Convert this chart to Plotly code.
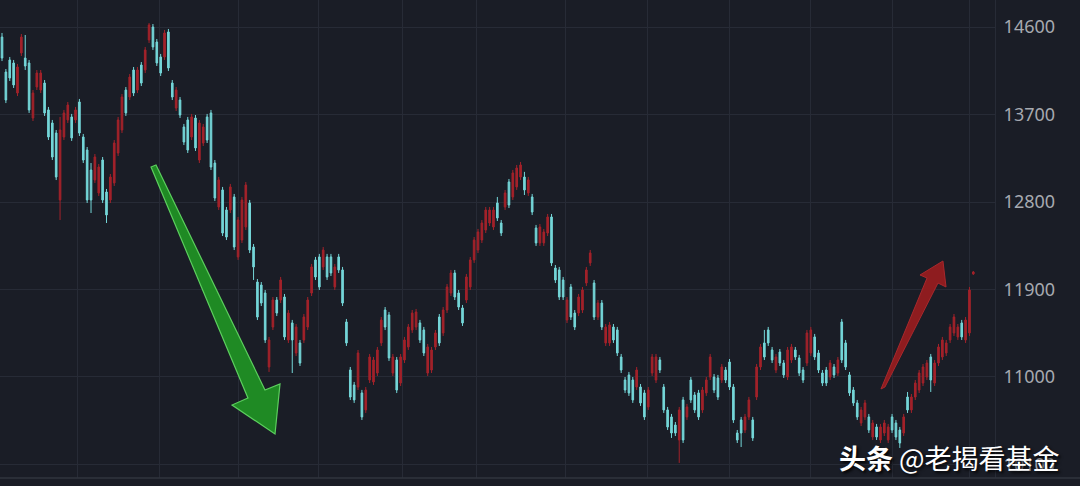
import plotly.graph_objects as go

opens = [14497,14137,14261,14230,13921,14333,14281,14230,13664,13983,
13952,14024,13747,13613,13510,12821,13469,13644,13675,13644,
13829,13469,13335,13129,13027,12893,13232,12903,12821,12996,
13304,13541,13952,13880,14158,13952,14209,14158,14467,14600,
14446,14292,14292,14549,14024,13767,13849,13572,13644,13469,
13664,13232,13407,13675,13716,13201,12749,12924,12718,12718,
12852,12235,12409,12543,12790,12337,11977,11946,11864,11103,
11514,11792,11792,11823,11381,11556,11247,11350,11381,11514,
11864,12204,12235,12132,12235,12235,11926,12235,12101,11566,
11072,10918,10897,10836,10661,10969,10949,11041,11350,11689,
11638,11041,11175,10938,11175,11309,11484,11514,11556,11484,
11041,11072,11309,11617,11453,11689,11864,12070,11864,11710,
11792,11926,12204,12306,12409,12512,12584,12543,12790,12584,
12749,13006,12852,12955,13057,13057,12893,12852,12533,12379,
12379,12481,12646,12121,12101,11998,11586,11926,11658,11658,
11689,11967,12173,11967,11617,11761,11350,11350,11514,11484,
11206,10969,11021,10969,10897,10897,10836,10692,11041,10969,
11175,10897,10661,10589,10506,10352,10764,10589,10969,10815,
10836,10661,10836,11000,11000,10990,10969,11072,11154,10897,
10424,10558,10455,10589,10558,10794,11103,11350,11484,11278,
11072,11257,11144,11000,11175,11278,11196,11072,11144,11247,
11412,11247,11041,11072,11000,11103,11041,11566,11350,11021,
10866,10733,10527,10589,10589,10383,10486,10352,10424,10352,
10589,10527,10455,10424,10794,10661,10794,10866,10938,11000,
11206,10938,11144,11206,11247,11381,11453,11412,11556,11381,
11453,12060]

closes = [14281,13849,14076,14004,14189,14497,14199,13747,13921,14127,
14127,13716,13469,13263,13057,13541,13716,13798,13459,13747,
13510,13232,12821,12821,13263,13160,12821,12667,13057,13407,
13644,13880,13716,14086,13921,14158,14024,14364,14621,14395,
14230,14127,14539,14179,13880,13952,13695,13417,13335,13675,
13356,13613,13572,13438,13160,12841,13027,12481,12440,12955,
12337,12615,12821,12975,12306,12132,11617,11761,11381,11381,
11792,11658,11998,11412,11658,11381,11514,11144,11617,11792,
12132,12029,11926,12306,12029,12070,12132,12101,11761,11350,
10794,10764,11247,10589,10866,11206,11175,11278,11586,11514,
11196,11206,10866,11206,11381,11514,11658,11669,11381,11247,
11309,11278,11453,11350,11689,11926,12070,11823,11720,11556,
12029,12204,12409,12492,12584,12718,12718,12718,12636,12481,
12893,12769,13099,13150,13181,12924,13027,12697,12379,12543,
12492,12646,12173,11998,11823,11823,11792,11617,11514,11823,
11895,12101,12276,11617,11761,11514,11514,11535,11381,11247,
11072,10866,10836,10764,11072,10733,10589,10866,11206,11206,
11072,10661,10486,10424,10424,10661,10352,10692,10764,10661,
10589,10866,10969,11206,10866,10794,11103,10969,10897,10558,
10352,10424,10589,10764,10373,11103,11309,11206,11350,11175,
11206,11144,11021,11278,11309,11206,11041,10969,11453,11484,
11206,11072,10938,10938,11144,11021,11175,11175,11103,10836,
10733,10589,10661,10733,10455,10527,10383,10486,10527,10486,
10455,10383,10321,10589,10661,10794,10938,11041,11103,11144,
10969,11144,11309,11381,11350,11514,11617,11514,11412,11586,
11895,12080]

highs = [14539,14168,14292,14261,14220,14528,14518,14261,13952,14158,
14158,14055,13778,13644,13541,13675,13747,13829,13706,13778,
13860,13500,13366,13201,13294,13191,13263,12934,13088,13438,
13675,13911,13983,14117,14189,14189,14240,14395,14641,14631,
14477,14323,14570,14580,14055,13983,13880,13603,13675,13706,
13695,13644,13603,13706,13747,13232,13058,12955,12749,12986,
12883,12646,12852,13006,12821,12368,12008,11977,11895,11412,
11823,11823,12029,11854,11689,11587,11545,11381,11648,11823,
12163,12235,12266,12337,12266,12266,12163,12266,12132,11597,
11103,10949,11278,10867,10897,11237,11206,11309,11617,11720,
11669,11237,11206,11237,11412,11545,11689,11700,11587,11515,
11340,11309,11484,11648,11720,11957,12101,12101,11895,11741,
12060,12235,12440,12523,12615,12749,12749,12749,12852,12615,
12924,13037,13130,13181,13212,13110,13058,12883,12564,12574,
12523,12677,12677,12152,12132,12029,11823,11957,11689,11854,
11926,12132,12307,11998,11792,11792,11545,11566,11545,11515,
11237,11000,11052,11000,11103,10928,10867,10897,11237,11237,
11206,10928,10692,10620,10537,10692,10795,10723,11000,10846,
10867,10897,11000,11237,11031,11021,11134,11103,11185,10928,
10455,10589,10620,10795,10589,11134,11340,11484,11515,11309,
11237,11288,11175,11309,11340,11309,11227,11103,11484,11515,
11443,11278,11072,11103,11175,11134,11206,11597,11381,11052,
10897,10764,10692,10764,10620,10558,10517,10517,10558,10517,
10620,10558,10486,10620,10846,10825,10969,11072,11134,11175,
11237,11175,11340,11412,11381,11545,11648,11545,11587,11617,
11926,12090]

lows = [14250,13818,14045,13973,13890,14302,14158,13716,13633,13952,
13921,13685,13438,13232,13026,12615,13438,13613,13428,13613,
13479,13201,12790,12687,12996,12862,12790,12584,12790,12965,
13273,13510,13685,13849,13890,13921,13993,14127,14436,14364,
14199,14096,14261,14148,13849,13736,13664,13386,13304,13438,
13325,13201,13376,13407,13129,12810,12718,12450,12409,12687,
12306,12204,12378,12512,12275,11998,11586,11730,11350,11052,
11483,11627,11761,11381,11350,11041,11216,11113,11350,11483,
11833,11998,11895,12101,11998,12039,11895,12070,11730,11319,
10763,10733,10866,10558,10630,10938,10918,11010,11319,11483,
11165,11010,10835,10907,11144,11278,11453,11483,11350,11216,
11010,11041,11278,11319,11422,11658,11833,11792,11689,11525,
11761,11895,12173,12275,12378,12481,12553,12512,12605,12450,
12718,12738,12821,12924,13026,12872,12862,12666,12348,12348,
12348,12450,12142,11967,11792,11792,11555,11586,11483,11627,
11658,11936,12142,11586,11586,11483,11319,11319,11350,11216,
11041,10835,10805,10733,10866,10702,10558,10661,11010,10938,
11041,10630,10455,10373,10393,10116,10321,10558,10733,10630,
10558,10630,10805,10969,10835,10763,10938,10938,10866,10527,
10321,10280,10424,10558,10342,10763,11072,11175,11319,11144,
11041,11113,10990,10969,11144,11175,11010,10938,11113,11216,
11175,11041,10907,10907,10969,10990,11010,11144,11072,10805,
10702,10558,10496,10558,10424,10352,10352,10321,10393,10321,
10424,10352,10270,10393,10630,10630,10763,10835,10907,10969,
10846,10907,11113,11175,11216,11350,11422,11381,11381,11350,
11422,12050]

days = list(range(len(opens)))
y_ticks = [10100, 11000, 11900, 12800, 13700, 14600]
y_tick_labels = ["10100", "11000", "11900", "12800", "13700", "14600"]
grid_days = [19.4, 40.8, 61.0, 81.7, 103.4, 122.7, 145.5, 166.7, 188.1, 208.8, 230.0, 249.9]
watermark = "<b>头条</b> @老揭看基金"

BG = "#1a1d26"
GRID = "#272b36"
UP = "#a3222a"
DOWN = "#74d6d8"

PLOT_W, PLOT_H = 995.0, 478.0


def pt(px, py):
    return f"{px / PLOT_W:.4f},{1 - py / PLOT_H:.4f}"


def poly(points):
    return "M " + " L ".join(pt(x, y) for x, y in points) + " Z"


green_arrow = [(151, 167), (156, 165), (265, 390), (280, 384), (275, 434),
               (232, 405), (248, 398)]
red_arrow = [(881, 389), (885, 387), (938, 283), (946, 287), (943, 261),
             (920, 275), (927, 278)]

fig = go.Figure()
fig.add_trace(go.Candlestick(
    x=days, open=opens, high=highs, low=lows, close=closes,
    increasing=dict(line=dict(color=UP, width=1), fillcolor=UP),
    decreasing=dict(line=dict(color=DOWN, width=1), fillcolor=DOWN),
    whiskerwidth=0, showlegend=False, hoverinfo="skip",
))

fig.update_layout(
    width=1080, height=486,
    margin=dict(l=0, r=85, t=0, b=8),
    paper_bgcolor=BG, plot_bgcolor=BG,
    boxgap=0.4,
    showlegend=False,
    xaxis=dict(
        range=[-0.52, 256.6], rangeslider=dict(visible=False),
        tickmode="array", tickvals=grid_days, showticklabels=False,
        showgrid=True, gridcolor=GRID, gridwidth=1, zeroline=False,
        showline=False, fixedrange=True,
    ),
    yaxis=dict(
        side="right", range=[9961, 14878],
        tickmode="array", tickvals=y_ticks, ticktext=y_tick_labels,
        showgrid=True, gridcolor=GRID, gridwidth=1, zeroline=False,
        showline=True, linecolor=GRID, linewidth=1,
        ticks="", ticklabelstandoff=4,
        tickfont=dict(family="Noto Sans, Open Sans, sans-serif", size=18, color="#a6a9b0"),
        fixedrange=True,
    ),
    shapes=[
        dict(type="path", xref="paper", yref="paper", path=poly(green_arrow),
             fillcolor="#1f8a24", line=dict(color="#5ccf5e", width=1.2), layer="above"),
        dict(type="path", xref="paper", yref="paper", path=poly(red_arrow),
             fillcolor="#8e1c1f", line=dict(color="#a8282c", width=1), layer="above"),
        dict(type="line", xref="paper", yref="paper", x0=0, x1=1080 / PLOT_W, y0=0, y1=0,
             line=dict(color="#30343e", width=1.5)),
    ],
    annotations=[
        dict(text=watermark, xref="paper", yref="paper",
             x=837 / PLOT_W, y=1 - 457 / PLOT_H, xanchor="left", yanchor="middle",
             showarrow=False,
             font=dict(family="Noto Sans CJK SC, sans-serif", size=27, color="#ffffff",
                       shadow="2px 2px 3px rgba(0,0,0,0.9)")),
    ],
)

fig.write_html("out.html",
               config={"displayModeBar": False},
               post_script="document.body.style.margin='0';document.body.style.background='#1a1d26';")
